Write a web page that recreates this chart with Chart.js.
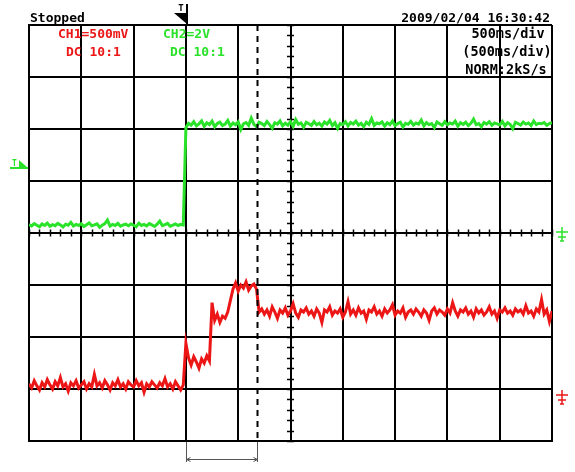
<!DOCTYPE html>
<html>
<head>
<meta charset="utf-8">
<script src="https://cdn.jsdelivr.net/npm/chart.js@4/dist/chart.umd.min.js"></script>
<style>
html,body{margin:0;padding:0;background:#fff;}
#wrap{position:relative;width:575px;height:472px;}
</style>
</head>
<body>
<div id="wrap"><canvas id="c" width="575" height="472"></canvas></div>
<script>
// ---- Data ----
// sample grid: 25 ms steps over 10 divisions of 500 ms
const sampleTimesMs = Array.from({length: 201}, (_, i) => i * 25);

// CH2 (green), volts
const ch2Volts = [
0.33,0.27,0.36,0.30,0.24,0.35,0.29,0.38,0.26,0.32,
0.28,0.37,0.31,0.23,0.34,0.30,0.41,0.27,0.33,0.29,
0.36,0.25,0.32,0.39,0.28,0.31,0.35,0.22,0.30,0.36,
0.50,0.27,0.33,0.29,0.37,0.26,0.31,0.34,0.28,0.35,
0.30,0.24,0.38,0.29,0.33,0.27,0.36,0.31,0.25,0.34,
0.46,0.28,0.32,0.37,0.26,0.30,0.35,0.29,0.33,0.31,
4.05,4.22,4.15,4.28,4.12,4.20,4.31,4.10,4.24,4.17,
4.30,4.08,4.21,4.26,4.13,4.19,4.33,4.11,4.23,4.16,
4.27,3.98,4.20,4.25,4.14,4.42,4.18,4.09,4.26,4.21,
4.13,4.29,4.17,4.03,4.24,4.19,4.31,4.12,4.22,4.15,
4.28,4.10,4.36,4.18,4.23,4.07,4.26,4.20,4.14,4.29,
4.16,4.22,4.11,4.27,4.19,4.33,4.13,4.24,4.02,4.21,
4.17,4.28,4.12,4.25,4.19,4.30,4.15,4.22,4.09,4.26,
4.18,4.40,4.14,4.23,4.20,4.27,4.11,4.24,4.17,4.31,
4.13,4.21,4.26,4.08,4.22,4.18,4.29,4.15,4.23,4.19,
4.34,4.12,4.25,4.17,4.21,4.05,4.27,4.20,4.14,4.28,
4.16,4.23,4.19,4.30,4.11,4.24,4.18,4.26,4.13,4.22,
4.38,4.17,4.21,4.09,4.25,4.19,4.28,4.14,4.23,4.20,
4.16,4.29,4.12,4.24,4.18,4.01,4.26,4.21,4.15,4.27,
4.19,4.23,4.13,4.31,4.17,4.22,4.20,4.25,4.14,4.21,
4.24
];

// CH1 (red), volts
const ch1Volts = [
0.15,0.11,0.18,0.13,0.09,0.16,0.12,0.19,0.14,0.10,
0.17,0.13,0.21,0.12,0.15,0.08,0.16,0.13,0.18,0.11,
0.14,0.17,0.10,0.15,0.12,0.24,0.13,0.16,0.11,0.18,
0.14,0.09,0.16,0.13,0.19,0.12,0.15,0.10,0.17,0.14,
0.12,0.18,0.13,0.16,0.07,0.15,0.12,0.17,0.14,0.11,
0.16,0.13,0.20,0.12,0.15,0.10,0.17,0.13,0.09,0.14,
0.54,
0.40,0.33,0.41,0.36,0.30,0.39,0.35,0.42,0.37,
0.93,
0.76,0.82,0.74,0.80,0.78,0.84,
0.95,
1.06,1.12,1.04,1.10,1.07,1.13,1.05,1.09,1.11,1.06,
0.84,
0.87,0.82,0.86,0.80,0.89,0.84,0.78,0.86,0.83,0.88,
0.81,0.85,0.92,0.83,0.79,0.86,0.84,0.88,0.82,0.85,
0.80,0.87,0.83,0.74,0.86,0.84,0.89,0.81,0.85,0.83,
0.87,0.79,0.84,0.94,0.82,0.86,0.81,0.88,0.83,0.85,
0.77,0.86,0.84,0.89,0.82,0.85,0.80,0.87,0.83,0.86,
0.91,0.81,0.85,0.83,0.88,0.79,0.84,0.86,0.82,0.87,
0.84,0.80,0.86,0.83,0.76,0.85,0.88,0.82,0.86,0.84,
0.81,0.87,0.83,0.93,0.85,0.80,0.86,0.84,0.88,0.82,
0.85,0.79,0.87,0.83,0.86,0.81,0.84,0.89,0.82,0.85,
0.78,0.86,0.84,0.88,0.83,0.85,0.81,0.87,0.84,0.86,
0.82,0.90,0.83,0.85,0.80,0.87,0.84,0.96,0.82,0.86,
0.75,0.85
];

const timeRangeMs = [0, 5000];      // 10 div x 500 ms
const ch2RangeV = [-8, 8];          // 2 V/div, ground at centre
const ch1RangeV = [-0.4, 3.6];      // 500 mV/div, ground ~3.2 div below centre
const triggerTimeMs = 1500;
const cursorTimeMs = 2180;
const triggerLevelV = 2.55;

const headerLeft = 'Stopped';
const headerRight = '2009/02/04 16:30:42';
const ch1Labels = ['CH1=500mV', 'DC 10:1'];
const ch2Labels = ['CH2=2V', 'DC 10:1'];
const timebaseLabels = ['500ms/div', '(500ms/div)', 'NORM:2kS/s'];

const RED = 'rgb(236,22,22)';
const GREEN = 'rgb(42,226,42)';

const toXY = (vals) => vals.map((v, i) => ({x: sampleTimesMs[i], y: v}));

const overlay = {
  id: 'overlay',
  beforeDatasetsDraw(chart) {
    const ctx = chart.ctx, xs = chart.scales.x, ys = chart.scales.y;
    const cx = xs.getPixelForValue((timeRangeMs[0] + timeRangeMs[1]) / 2);
    const cy = ys.getPixelForValue(0);
    ctx.save();
    ctx.strokeStyle = '#000';
    ctx.lineWidth = 1.5;
    ctx.beginPath();
    for (let t = timeRangeMs[0]; t <= timeRangeMs[1]; t += 100) {
      const px = Math.round(xs.getPixelForValue(t)) + 0.5;
      ctx.moveTo(px, cy - 3.5); ctx.lineTo(px, cy + 3.5);
    }
    for (let v = ch2RangeV[0]; v <= ch2RangeV[1] + 1e-9; v += 0.4) {
      const py = Math.round(ys.getPixelForValue(v)) + 0.5;
      ctx.moveTo(cx - 3.5, py); ctx.lineTo(cx + 3.5, py);
    }
    ctx.stroke();
    ctx.restore();
  },
  afterDatasetsDraw(chart) {
    const ctx = chart.ctx, xs = chart.scales.x, a = chart.chartArea;
    const px = Math.round(xs.getPixelForValue(cursorTimeMs)) + 0.5;
    ctx.save();
    ctx.strokeStyle = '#000';
    ctx.lineWidth = 2;
    ctx.setLineDash([6, 5]);
    ctx.beginPath(); ctx.moveTo(px, a.top); ctx.lineTo(px, a.bottom); ctx.stroke();
    ctx.restore();
  },
  afterDraw(chart) {
    const ctx = chart.ctx, xs = chart.scales.x, ys = chart.scales.y, y1 = chart.scales.y1, a = chart.chartArea;
    ctx.save();
    ctx.textBaseline = 'alphabetic';
    ctx.font = 'bold 13px "DejaVu Sans Mono"';
    ctx.fillStyle = '#000';
    ctx.textAlign = 'left';
    ctx.fillText(headerLeft, a.left + 1, 22);
    ctx.textAlign = 'right';
    ctx.fillText(headerRight, a.right - 2, 22);

    ctx.textAlign = 'left';
    ctx.fillStyle = RED;
    ctx.fillText(ch1Labels[0], 58, 38);
    ctx.fillText(ch1Labels[1], 66, 56);
    ctx.fillStyle = GREEN;
    ctx.fillText(ch2Labels[0], 163, 38);
    ctx.fillText(ch2Labels[1], 170, 56);

    ctx.fillStyle = '#000';
    ctx.textAlign = 'center';
    ctx.font = 'bold 13.5px "DejaVu Sans Mono"';
    ctx.fillText(timebaseLabels[0], 508, 38);
    ctx.fillText(timebaseLabels[1], 507, 56);
    ctx.fillText(timebaseLabels[2], 506, 74);

    // trigger position marker (top)
    const tx = Math.round(xs.getPixelForValue(triggerTimeMs));
    ctx.fillStyle = '#000';
    ctx.beginPath();
    ctx.moveTo(tx - 12, 13); ctx.lineTo(tx + 1, 13); ctx.lineTo(tx + 1, 24); ctx.closePath(); ctx.fill();
    ctx.fillRect(tx, 4, 2, 20);
    ctx.font = 'bold 9px "DejaVu Sans Mono"';
    ctx.textAlign = 'center';
    ctx.fillText('T', tx - 5, 11);

    // trigger level marker (left, CH2)
    const ty = Math.round(ys.getPixelForValue(triggerLevelV));
    ctx.fillStyle = GREEN;
    ctx.beginPath();
    ctx.moveTo(19, ty - 7); ctx.lineTo(28, ty + 1); ctx.lineTo(19, ty + 1); ctx.closePath(); ctx.fill();
    ctx.fillRect(10, ty, 18, 2);
    ctx.font = 'bold 8px "DejaVu Sans Mono"';
    ctx.textAlign = 'left';
    ctx.fillText('T', 12, ty - 1);

    // ground markers (right)
    const gnd = (y, col) => {
      const x0 = a.right + 4;
      ctx.strokeStyle = col; ctx.lineWidth = 1.5;
      ctx.beginPath();
      ctx.moveTo(x0, y - 4); ctx.lineTo(x0 + 12, y - 4);
      ctx.moveTo(x0 + 6, y - 9); ctx.lineTo(x0 + 6, y + 5);
      ctx.moveTo(x0 + 2, y + 1); ctx.lineTo(x0 + 10, y + 1);
      ctx.moveTo(x0 + 4, y + 5); ctx.lineTo(x0 + 8, y + 5);
      ctx.stroke();
    };
    gnd(Math.round(ys.getPixelForValue(0)) + 3, GREEN);
    gnd(Math.round(y1.getPixelForValue(0)), RED);

    // cursor delta indicator below the grid
    const c1 = Math.round(xs.getPixelForValue(triggerTimeMs)) + 0.5;
    const c2 = Math.round(xs.getPixelForValue(cursorTimeMs)) + 0.5;
    ctx.strokeStyle = '#555'; ctx.lineWidth = 1;
    ctx.beginPath();
    ctx.moveTo(c1, a.bottom + 1); ctx.lineTo(c1, a.bottom + 21);
    ctx.moveTo(c2, a.bottom + 1); ctx.lineTo(c2, a.bottom + 21);
    ctx.moveTo(c1, a.bottom + 18.5); ctx.lineTo(c2, a.bottom + 18.5);
    ctx.moveTo(c1 + 4, a.bottom + 16.5); ctx.lineTo(c1, a.bottom + 18.5); ctx.lineTo(c1 + 4, a.bottom + 20.5);
    ctx.moveTo(c2 - 4, a.bottom + 16.5); ctx.lineTo(c2, a.bottom + 18.5); ctx.lineTo(c2 - 4, a.bottom + 20.5);
    ctx.stroke();
    ctx.restore();
  }
};

new Chart(document.getElementById('c'), {
  type: 'line',
  data: {
    datasets: [
      {label: 'CH2', data: toXY(ch2Volts), yAxisID: 'y', borderColor: GREEN, borderWidth: 3, tension: 0, pointRadius: 0, fill: false},
      {label: 'CH1', data: toXY(ch1Volts), yAxisID: 'y1', borderColor: RED, borderWidth: 3, tension: 0, pointRadius: 0, fill: false}
    ]
  },
  options: {
    responsive: false,
    animation: false,
    events: [],
    layout: {padding: {left: 29, top: 25, right: 23, bottom: 31}},
    plugins: {legend: {display: false}, tooltip: {enabled: false}},
    scales: {
      x: {
        type: 'linear', min: timeRangeMs[0], max: timeRangeMs[1],
        ticks: {display: false, stepSize: 500},
        grid: {color: '#000', lineWidth: 2, drawTicks: false},
        border: {display: true, color: '#000', width: 2}
      },
      y: {
        type: 'linear', min: ch2RangeV[0], max: ch2RangeV[1],
        ticks: {display: false, stepSize: 2},
        grid: {color: '#000', lineWidth: 2, drawTicks: false},
        border: {display: true, color: '#000', width: 2}
      },
      y1: {type: 'linear', min: ch1RangeV[0], max: ch1RangeV[1], display: false}
    }
  },
  plugins: [overlay]
});
</script>
</body>
</html>
